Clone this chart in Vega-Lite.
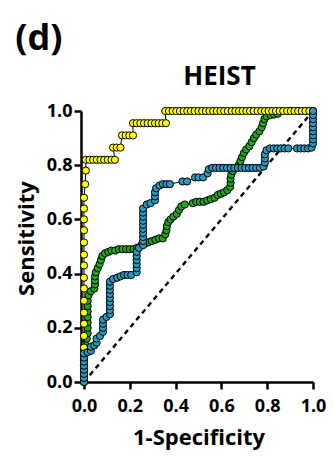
{
  "$schema": "https://vega.github.io/schema/vega-lite/v6.json",
  "padding": {"left": 15, "top": 21, "right": 0, "bottom": 14},
  "title": {"text": "(d)", "anchor": "start", "frame": "bounds", "fontSize": 36, "font": "Open Sans", "fontWeight": "bold", "color": "black", "offset": 6},
  "datasets": {
    "roc": [
      {"s": "green", "x": 0, "y": 0}, {"s": "green", "x": 0, "y": 0.02}, {"s": "green", "x": 0, "y": 0.04}, {"s": "green", "x": 0, "y": 0.06}, {"s": "green", "x": 0, "y": 0.08}, {"s": "green", "x": 0, "y": 0.1}, {"s": "green", "x": 0, "y": 0.12}, {"s": "green", "x": 0.005, "y": 0.14}, {"s": "green", "x": 0.012, "y": 0.16}, {"s": "green", "x": 0.016, "y": 0.18}, {"s": "green", "x": 0.016, "y": 0.2}, {"s": "green", "x": 0.016, "y": 0.22}, {"s": "green", "x": 0.016, "y": 0.24}, {"s": "green", "x": 0.016, "y": 0.26}, {"s": "green", "x": 0.016, "y": 0.28}, {"s": "green", "x": 0.016, "y": 0.3}, {"s": "green", "x": 0.02, "y": 0.32}, {"s": "green", "x": 0.03, "y": 0.335}, {"s": "green", "x": 0.045, "y": 0.345}, {"s": "green", "x": 0.048, "y": 0.36}, {"s": "green", "x": 0.048, "y": 0.375}, {"s": "green", "x": 0.048, "y": 0.39}, {"s": "green", "x": 0.052, "y": 0.405}, {"s": "green", "x": 0.06, "y": 0.42}, {"s": "green", "x": 0.068, "y": 0.435}, {"s": "green", "x": 0.074, "y": 0.45}, {"s": "green", "x": 0.08, "y": 0.465}, {"s": "green", "x": 0.092, "y": 0.475}, {"s": "green", "x": 0.106, "y": 0.48}, {"s": "green", "x": 0.12, "y": 0.485}, {"s": "green", "x": 0.136, "y": 0.485}, {"s": "green", "x": 0.152, "y": 0.49}, {"s": "green", "x": 0.168, "y": 0.49}, {"s": "green", "x": 0.184, "y": 0.49}, {"s": "green", "x": 0.2, "y": 0.49}, {"s": "green", "x": 0.216, "y": 0.49}, {"s": "green", "x": 0.232, "y": 0.495}, {"s": "green", "x": 0.25, "y": 0.505}, {"s": "green", "x": 0.266, "y": 0.51}, {"s": "green", "x": 0.28, "y": 0.515}, {"s": "green", "x": 0.296, "y": 0.52}, {"s": "green", "x": 0.312, "y": 0.525}, {"s": "green", "x": 0.328, "y": 0.53}, {"s": "green", "x": 0.344, "y": 0.53}, {"s": "green", "x": 0.355, "y": 0.545}, {"s": "green", "x": 0.36, "y": 0.56}, {"s": "green", "x": 0.362, "y": 0.575}, {"s": "green", "x": 0.368, "y": 0.59}, {"s": "green", "x": 0.378, "y": 0.6}, {"s": "green", "x": 0.39, "y": 0.61}, {"s": "green", "x": 0.405, "y": 0.62}, {"s": "green", "x": 0.415, "y": 0.635}, {"s": "green", "x": 0.425, "y": 0.648}, {"s": "green", "x": 0.44, "y": 0.655}, {"s": "green", "x": 0.475, "y": 0.66}, {"s": "green", "x": 0.49, "y": 0.665}, {"s": "green", "x": 0.506, "y": 0.665}, {"s": "green", "x": 0.522, "y": 0.665}, {"s": "green", "x": 0.538, "y": 0.67}, {"s": "green", "x": 0.554, "y": 0.675}, {"s": "green", "x": 0.57, "y": 0.68}, {"s": "green", "x": 0.584, "y": 0.69}, {"s": "green", "x": 0.598, "y": 0.695}, {"s": "green", "x": 0.612, "y": 0.7}, {"s": "green", "x": 0.626, "y": 0.708}, {"s": "green", "x": 0.638, "y": 0.72}, {"s": "green", "x": 0.64, "y": 0.735}, {"s": "green", "x": 0.64, "y": 0.75}, {"s": "green", "x": 0.643, "y": 0.765}, {"s": "green", "x": 0.65, "y": 0.778}, {"s": "green", "x": 0.662, "y": 0.79}, {"s": "green", "x": 0.675, "y": 0.8}, {"s": "green", "x": 0.683, "y": 0.815}, {"s": "green", "x": 0.69, "y": 0.83}, {"s": "green", "x": 0.698, "y": 0.845}, {"s": "green", "x": 0.708, "y": 0.858}, {"s": "green", "x": 0.722, "y": 0.87}, {"s": "green", "x": 0.732, "y": 0.885}, {"s": "green", "x": 0.742, "y": 0.9}, {"s": "green", "x": 0.752, "y": 0.913}, {"s": "green", "x": 0.766, "y": 0.925}, {"s": "green", "x": 0.776, "y": 0.94}, {"s": "green", "x": 0.782, "y": 0.955}, {"s": "green", "x": 0.788, "y": 0.97}, {"s": "green", "x": 0.798, "y": 0.98}, {"s": "green", "x": 0.814, "y": 0.985}, {"s": "green", "x": 0.83, "y": 0.987}, {"s": "green", "x": 0.846, "y": 0.99}, {"s": "green", "x": 0.862, "y": 1}, {"s": "green", "x": 0.9, "y": 1}, {"s": "green", "x": 0.935, "y": 1}, {"s": "green", "x": 0.967, "y": 1}, {"s": "green", "x": 1, "y": 1},

      {"s": "yellow", "x": 0, "y": 0}, {"s": "yellow", "x": 0, "y": 0.042}, {"s": "yellow", "x": 0, "y": 0.085}, {"s": "yellow", "x": 0, "y": 0.127}, {"s": "yellow", "x": 0, "y": 0.17}, {"s": "yellow", "x": 0, "y": 0.215}, {"s": "yellow", "x": 0, "y": 0.256}, {"s": "yellow", "x": 0, "y": 0.3}, {"s": "yellow", "x": 0, "y": 0.345}, {"s": "yellow", "x": 0, "y": 0.385}, {"s": "yellow", "x": 0, "y": 0.43}, {"s": "yellow", "x": 0, "y": 0.47}, {"s": "yellow", "x": 0, "y": 0.515}, {"s": "yellow", "x": 0, "y": 0.56}, {"s": "yellow", "x": 0, "y": 0.6}, {"s": "yellow", "x": 0, "y": 0.64}, {"s": "yellow", "x": 0, "y": 0.68}, {"s": "yellow", "x": 0.005, "y": 0.73}, {"s": "yellow", "x": 0.008, "y": 0.78}, {"s": "yellow", "x": 0.008, "y": 0.82},
      {"s": "yellow", "x": 0.024, "y": 0.82}, {"s": "yellow", "x": 0.04, "y": 0.82}, {"s": "yellow", "x": 0.056, "y": 0.82}, {"s": "yellow", "x": 0.072, "y": 0.82}, {"s": "yellow", "x": 0.088, "y": 0.82}, {"s": "yellow", "x": 0.104, "y": 0.82}, {"s": "yellow", "x": 0.12, "y": 0.82}, {"s": "yellow", "x": 0.135, "y": 0.82},
      {"s": "yellow", "x": 0.127, "y": 0.865}, {"s": "yellow", "x": 0.143, "y": 0.865}, {"s": "yellow", "x": 0.159, "y": 0.865},
      {"s": "yellow", "x": 0.166, "y": 0.91}, {"s": "yellow", "x": 0.182, "y": 0.91}, {"s": "yellow", "x": 0.198, "y": 0.91}, {"s": "yellow", "x": 0.214, "y": 0.91},
      {"s": "yellow", "x": 0.214, "y": 0.955}, {"s": "yellow", "x": 0.23, "y": 0.955}, {"s": "yellow", "x": 0.246, "y": 0.955}, {"s": "yellow", "x": 0.262, "y": 0.955}, {"s": "yellow", "x": 0.278, "y": 0.955}, {"s": "yellow", "x": 0.294, "y": 0.955}, {"s": "yellow", "x": 0.31, "y": 0.955}, {"s": "yellow", "x": 0.326, "y": 0.955}, {"s": "yellow", "x": 0.342, "y": 0.955}, {"s": "yellow", "x": 0.358, "y": 0.955},
      {"s": "yellow", "x": 0.355, "y": 1}, {"s": "yellow", "x": 0.371, "y": 1}, {"s": "yellow", "x": 0.387, "y": 1}, {"s": "yellow", "x": 0.403, "y": 1}, {"s": "yellow", "x": 0.419, "y": 1}, {"s": "yellow", "x": 0.435, "y": 1}, {"s": "yellow", "x": 0.451, "y": 1}, {"s": "yellow", "x": 0.467, "y": 1}, {"s": "yellow", "x": 0.483, "y": 1}, {"s": "yellow", "x": 0.5, "y": 1}, {"s": "yellow", "x": 0.516, "y": 1}, {"s": "yellow", "x": 0.532, "y": 1}, {"s": "yellow", "x": 0.548, "y": 1}, {"s": "yellow", "x": 0.564, "y": 1}, {"s": "yellow", "x": 0.58, "y": 1}, {"s": "yellow", "x": 0.596, "y": 1}, {"s": "yellow", "x": 0.612, "y": 1}, {"s": "yellow", "x": 0.628, "y": 1}, {"s": "yellow", "x": 0.645, "y": 1}, {"s": "yellow", "x": 0.661, "y": 1}, {"s": "yellow", "x": 0.677, "y": 1}, {"s": "yellow", "x": 0.693, "y": 1}, {"s": "yellow", "x": 0.709, "y": 1}, {"s": "yellow", "x": 0.725, "y": 1}, {"s": "yellow", "x": 0.741, "y": 1}, {"s": "yellow", "x": 0.758, "y": 1}, {"s": "yellow", "x": 0.774, "y": 1}, {"s": "yellow", "x": 0.79, "y": 1}, {"s": "yellow", "x": 0.806, "y": 1}, {"s": "yellow", "x": 0.822, "y": 1}, {"s": "yellow", "x": 0.838, "y": 1}, {"s": "yellow", "x": 0.854, "y": 1}, {"s": "yellow", "x": 0.87, "y": 1}, {"s": "yellow", "x": 0.887, "y": 1}, {"s": "yellow", "x": 0.903, "y": 1}, {"s": "yellow", "x": 0.919, "y": 1}, {"s": "yellow", "x": 0.935, "y": 1}, {"s": "yellow", "x": 0.951, "y": 1}, {"s": "yellow", "x": 0.967, "y": 1}, {"s": "yellow", "x": 0.984, "y": 1}, {"s": "yellow", "x": 1, "y": 1},

      {"s": "blue", "x": 0, "y": 0}, {"s": "blue", "x": 0, "y": 0.015}, {"s": "blue", "x": 0, "y": 0.03}, {"s": "blue", "x": 0, "y": 0.045}, {"s": "blue", "x": 0, "y": 0.06}, {"s": "blue", "x": 0, "y": 0.075}, {"s": "blue", "x": 0, "y": 0.09}, {"s": "blue", "x": 0, "y": 0.105},
      {"s": "blue", "x": 0.016, "y": 0.11}, {"s": "blue", "x": 0.03, "y": 0.115}, {"s": "blue", "x": 0.03, "y": 0.13},
      {"s": "blue", "x": 0.045, "y": 0.135}, {"s": "blue", "x": 0.055, "y": 0.145}, {"s": "blue", "x": 0.055, "y": 0.16},
      {"s": "blue", "x": 0.07, "y": 0.17}, {"s": "blue", "x": 0.083, "y": 0.185}, {"s": "blue", "x": 0.083, "y": 0.2}, {"s": "blue", "x": 0.083, "y": 0.215}, {"s": "blue", "x": 0.083, "y": 0.23},
      {"s": "blue", "x": 0.098, "y": 0.24}, {"s": "blue", "x": 0.113, "y": 0.25}, {"s": "blue", "x": 0.113, "y": 0.265}, {"s": "blue", "x": 0.113, "y": 0.28}, {"s": "blue", "x": 0.113, "y": 0.295}, {"s": "blue", "x": 0.113, "y": 0.31}, {"s": "blue", "x": 0.113, "y": 0.325}, {"s": "blue", "x": 0.113, "y": 0.34}, {"s": "blue", "x": 0.113, "y": 0.355}, {"s": "blue", "x": 0.113, "y": 0.37},
      {"s": "blue", "x": 0.127, "y": 0.38}, {"s": "blue", "x": 0.145, "y": 0.385}, {"s": "blue", "x": 0.16, "y": 0.39}, {"s": "blue", "x": 0.175, "y": 0.395}, {"s": "blue", "x": 0.19, "y": 0.395}, {"s": "blue", "x": 0.206, "y": 0.395},
      {"s": "blue", "x": 0.23, "y": 0.405}, {"s": "blue", "x": 0.23, "y": 0.42}, {"s": "blue", "x": 0.23, "y": 0.435}, {"s": "blue", "x": 0.23, "y": 0.45}, {"s": "blue", "x": 0.23, "y": 0.465}, {"s": "blue", "x": 0.23, "y": 0.48}, {"s": "blue", "x": 0.24, "y": 0.495},
      {"s": "blue", "x": 0.258, "y": 0.505}, {"s": "blue", "x": 0.258, "y": 0.52}, {"s": "blue", "x": 0.258, "y": 0.535}, {"s": "blue", "x": 0.258, "y": 0.55}, {"s": "blue", "x": 0.258, "y": 0.565}, {"s": "blue", "x": 0.258, "y": 0.58}, {"s": "blue", "x": 0.258, "y": 0.595}, {"s": "blue", "x": 0.258, "y": 0.61}, {"s": "blue", "x": 0.258, "y": 0.625}, {"s": "blue", "x": 0.258, "y": 0.64},
      {"s": "blue", "x": 0.274, "y": 0.655}, {"s": "blue", "x": 0.29, "y": 0.66}, {"s": "blue", "x": 0.31, "y": 0.67}, {"s": "blue", "x": 0.31, "y": 0.685}, {"s": "blue", "x": 0.31, "y": 0.7}, {"s": "blue", "x": 0.315, "y": 0.715},
      {"s": "blue", "x": 0.33, "y": 0.725}, {"s": "blue", "x": 0.345, "y": 0.73}, {"s": "blue", "x": 0.36, "y": 0.73}, {"s": "blue", "x": 0.375, "y": 0.73},
      {"s": "blue", "x": 0.43, "y": 0.74}, {"s": "blue", "x": 0.45, "y": 0.74},
      {"s": "blue", "x": 0.485, "y": 0.755}, {"s": "blue", "x": 0.5, "y": 0.755}, {"s": "blue", "x": 0.52, "y": 0.755},
      {"s": "blue", "x": 0.54, "y": 0.77}, {"s": "blue", "x": 0.545, "y": 0.785},
      {"s": "blue", "x": 0.56, "y": 0.79}, {"s": "blue", "x": 0.576, "y": 0.79}, {"s": "blue", "x": 0.592, "y": 0.79}, {"s": "blue", "x": 0.608, "y": 0.79}, {"s": "blue", "x": 0.624, "y": 0.79}, {"s": "blue", "x": 0.64, "y": 0.79}, {"s": "blue", "x": 0.656, "y": 0.79}, {"s": "blue", "x": 0.672, "y": 0.79}, {"s": "blue", "x": 0.688, "y": 0.79}, {"s": "blue", "x": 0.704, "y": 0.79}, {"s": "blue", "x": 0.72, "y": 0.79}, {"s": "blue", "x": 0.736, "y": 0.79}, {"s": "blue", "x": 0.752, "y": 0.79}, {"s": "blue", "x": 0.768, "y": 0.79}, {"s": "blue", "x": 0.784, "y": 0.795},
      {"s": "blue", "x": 0.79, "y": 0.81}, {"s": "blue", "x": 0.79, "y": 0.825}, {"s": "blue", "x": 0.79, "y": 0.84}, {"s": "blue", "x": 0.797, "y": 0.855},
      {"s": "blue", "x": 0.812, "y": 0.862}, {"s": "blue", "x": 0.828, "y": 0.862}, {"s": "blue", "x": 0.844, "y": 0.862}, {"s": "blue", "x": 0.86, "y": 0.862}, {"s": "blue", "x": 0.876, "y": 0.862}, {"s": "blue", "x": 0.892, "y": 0.862},
      {"s": "blue", "x": 0.93, "y": 0.862}, {"s": "blue", "x": 0.946, "y": 0.862}, {"s": "blue", "x": 0.962, "y": 0.862}, {"s": "blue", "x": 0.978, "y": 0.862}, {"s": "blue", "x": 0.994, "y": 0.865},
      {"s": "blue", "x": 1, "y": 0.88}, {"s": "blue", "x": 1, "y": 0.895}, {"s": "blue", "x": 1, "y": 0.91}, {"s": "blue", "x": 1, "y": 0.925}, {"s": "blue", "x": 1, "y": 0.94}, {"s": "blue", "x": 1, "y": 0.955}, {"s": "blue", "x": 1, "y": 0.97}, {"s": "blue", "x": 1, "y": 0.985}, {"s": "blue", "x": 1, "y": 1}
    ]
  },
  "vconcat": [
    {
      "width": 229,
      "height": 271,
      "title": {"text": "HEIST", "anchor": "middle", "dx": 21, "fontSize": 26, "font": "Open Sans", "fontWeight": "bold", "color": "black", "offset": 12},
      "layer": [
        {
          "data": {"values": [{}]},
          "mark": {"type": "rule", "strokeDash": [5, 4], "strokeWidth": 2.4, "color": "black"},
          "encoding": {
            "x": {"datum": 0, "type": "quantitative", "scale": {"domain": [0, 1], "nice": false}},
            "y": {"datum": 0, "type": "quantitative", "scale": {"domain": [0, 1], "nice": false}},
            "x2": {"datum": 1},
            "y2": {"datum": 1}
          }
        },
        {
          "data": {"name": "roc"},
          "transform": [{"filter": "datum.s === 'green'"}],
          "mark": {"type": "line", "color": "black", "strokeWidth": 1},
          "encoding": {"x": {"field": "x", "type": "quantitative"}, "y": {"field": "y", "type": "quantitative"}, "order": {"value": null}}
        },
        {
          "data": {"name": "roc"},
          "transform": [{"filter": "datum.s === 'green'"}],
          "mark": {"type": "point", "filled": true, "size": 52, "stroke": "black", "strokeWidth": 1, "opacity": 1},
          "encoding": {"x": {"field": "x", "type": "quantitative"}, "y": {"field": "y", "type": "quantitative"}, "fill": {"field": "s", "type": "nominal", "scale": {"domain": ["yellow", "green", "blue"], "range": ["#ffff00", "#1fa51f", "#2a98bf"]}, "legend": null}}
        },
        {
          "data": {"name": "roc"},
          "transform": [{"filter": "datum.s === 'yellow'"}],
          "mark": {"type": "line", "color": "black", "strokeWidth": 1},
          "encoding": {"x": {"field": "x", "type": "quantitative"}, "y": {"field": "y", "type": "quantitative"}, "order": {"value": null}}
        },
        {
          "data": {"name": "roc"},
          "transform": [{"filter": "datum.s === 'yellow'"}],
          "mark": {"type": "point", "filled": true, "size": 52, "stroke": "black", "strokeWidth": 1, "opacity": 1},
          "encoding": {"x": {"field": "x", "type": "quantitative"}, "y": {"field": "y", "type": "quantitative"}, "fill": {"field": "s", "type": "nominal", "legend": null}}
        },
        {
          "data": {"name": "roc"},
          "transform": [{"filter": "datum.s === 'blue'"}],
          "mark": {"type": "line", "color": "black", "strokeWidth": 1},
          "encoding": {"x": {"field": "x", "type": "quantitative"}, "y": {"field": "y", "type": "quantitative"}, "order": {"value": null}}
        },
        {
          "data": {"name": "roc"},
          "transform": [{"filter": "datum.s === 'blue'"}],
          "mark": {"type": "point", "filled": true, "size": 52, "stroke": "black", "strokeWidth": 1, "opacity": 1},
          "encoding": {
            "x": {"field": "x", "type": "quantitative", "title": "1-Specificity", "axis": {"values": [0, 0.2, 0.4, 0.6, 0.8, 1], "format": ".1f", "labelPadding": 8, "titlePadding": 12}},
            "y": {"field": "y", "type": "quantitative", "title": "Sensitivity", "axis": {"values": [0, 0.2, 0.4, 0.6, 0.8, 1], "format": ".1f", "offset": 3, "labelPadding": 2, "titlePadding": 8, "titleY": 127}},
            "fill": {"field": "s", "type": "nominal", "legend": null}
          }
        }
      ]
    }
  ],
  "config": {
    "view": {"stroke": null},
    "axis": {
      "grid": false,
      "domainColor": "black", "domainWidth": 2.5,
      "tickColor": "black", "tickWidth": 2.5, "tickSize": 7,
      "labelFont": "Open Sans", "labelFontWeight": "bold", "labelFontSize": 18, "labelColor": "black",
      "labelFlush": false, "labelOverlap": false,
      "titleFont": "Open Sans", "titleFontWeight": "bold", "titleFontSize": 22, "titleColor": "black"
    }
  }
}
